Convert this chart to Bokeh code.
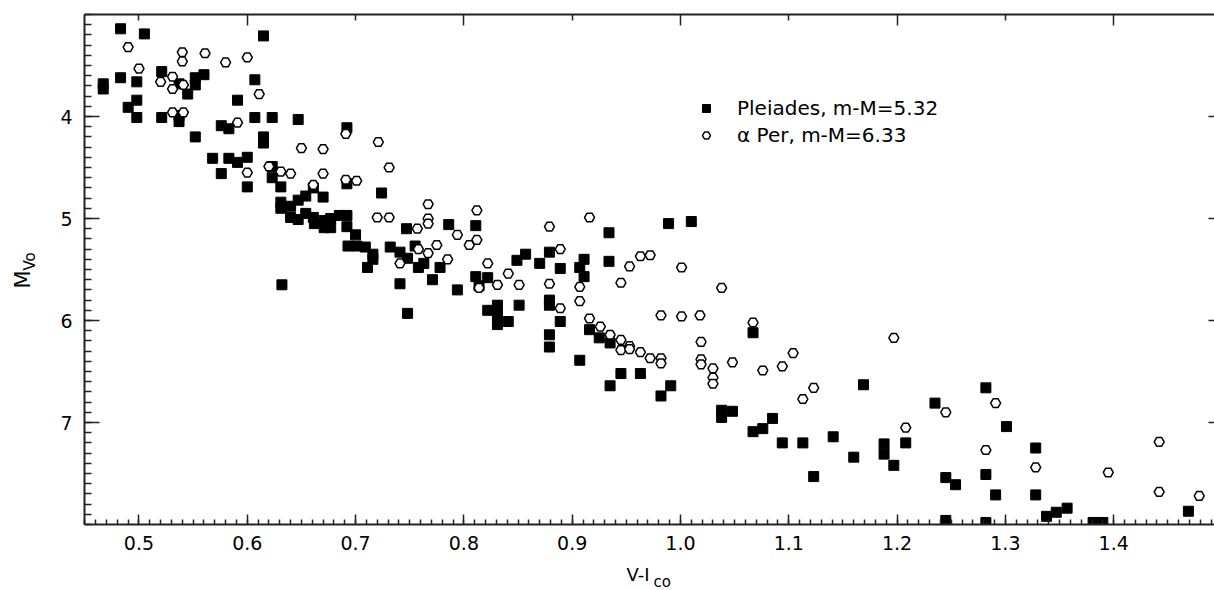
from bokeh.plotting import figure
from bokeh.models import (Range1d, FixedTicker, LinearAxis, PrintfTickFormatter,
                          Legend, LegendItem, Title)
from bokeh.embed import file_html
from bokeh.resources import INLINE

# ---------------- data ----------------
pleiades_vi = [
    0.483, 0.505, 0.615, 0.467, 0.467, 0.483, 0.498, 0.521, 0.498, 0.490,
    0.498, 0.521, 0.537, 0.537, 0.537, 0.545, 0.552, 0.552, 0.560, 0.552,
    0.576, 0.583, 0.591, 0.607, 0.607, 0.615, 0.615, 0.623, 0.647, 0.568,
    0.583, 0.591, 0.600, 0.576, 0.600, 0.623, 0.623, 0.631, 0.692, 0.724,
    0.692, 0.670, 0.747, 0.741, 0.632, 0.631, 0.631, 0.640, 0.647, 0.654,
    0.661, 0.640, 0.647, 0.654, 0.661, 0.662, 0.671, 0.671, 0.677, 0.677,
    0.685, 0.692, 0.692, 0.700, 0.693, 0.701, 0.709, 0.716, 0.716, 0.711,
    0.732, 0.741, 0.748, 0.755, 0.758, 0.763, 0.778, 0.771, 0.786, 0.794,
    0.811, 0.811, 0.748, 0.814, 0.822, 0.822, 0.831, 0.831, 0.831, 0.841,
    0.851, 0.849, 0.857, 0.870, 0.879, 0.889, 0.879, 0.879, 0.889, 0.879,
    0.879, 0.911, 0.907, 0.911, 0.934, 0.934, 0.989, 1.010, 0.916, 0.925,
    0.935, 0.907, 0.945, 0.963, 0.935, 0.991, 0.982, 1.067, 1.038, 1.038,
    1.048, 1.085, 1.076, 1.067, 1.094, 1.113, 1.141, 1.160, 1.123, 1.169,
    1.188, 1.188, 1.197, 1.208, 1.235, 1.282, 1.245, 1.282, 1.301, 1.254,
    1.245, 1.291, 1.282, 1.328, 1.328, 1.338, 1.347, 1.357, 1.381, 1.390,
    1.469,
]
pleiades_mv = [
    3.14, 3.19, 3.21, 3.68, 3.73, 3.62, 3.66, 3.56, 3.84, 3.91,
    4.01, 4.01, 3.68, 3.99, 4.05, 3.78, 3.62, 3.69, 3.59, 4.20,
    4.09, 4.12, 3.84, 3.64, 4.01, 4.20, 4.26, 4.01, 4.03, 4.41,
    4.41, 4.45, 4.40, 4.56, 4.69, 4.49, 4.60, 4.69, 4.11, 4.75,
    4.66, 4.79, 5.10, 5.64, 5.65, 4.84, 4.90, 4.88, 4.82, 4.78,
    4.70, 4.99, 5.01, 4.95, 4.99, 5.05, 5.09, 5.02, 5.00, 5.09,
    4.97, 4.97, 5.08, 5.16, 5.27, 5.27, 5.28, 5.35, 5.40, 5.48,
    5.28, 5.33, 5.39, 5.27, 5.48, 5.44, 5.48, 5.60, 5.06, 5.70,
    5.07, 5.57, 5.93, 5.66, 5.58, 5.90, 5.85, 5.95, 6.04, 6.01,
    5.85, 5.41, 5.35, 5.44, 5.33, 5.49, 5.80, 5.85, 6.01, 6.14,
    6.26, 5.40, 5.48, 5.57, 5.14, 5.42, 5.05, 5.03, 6.09, 6.17,
    6.22, 6.39, 6.52, 6.52, 6.64, 6.64, 6.74, 6.12, 6.88, 6.95,
    6.89, 6.96, 7.06, 7.09, 7.20, 7.20, 7.14, 7.34, 7.53, 6.63,
    7.21, 7.31, 7.42, 7.20, 6.81, 6.66, 7.54, 7.51, 7.04, 7.61,
    7.96, 7.71, 7.98, 7.25, 7.71, 7.92, 7.88, 7.84, 7.98, 7.98,
    7.87,
]

aper_vi = [
    0.490, 0.540, 0.540, 0.561, 0.580, 0.600, 0.500, 0.531, 0.520, 0.531,
    0.541, 0.531, 0.541, 0.611, 0.591, 0.650, 0.600, 0.620, 0.631, 0.640,
    0.691, 0.721, 0.731, 0.670, 0.691, 0.701, 0.720, 0.731, 0.757, 0.670,
    0.741, 0.661, 0.767, 0.767, 0.767, 0.812, 0.812, 0.794, 0.805, 0.775,
    0.758, 0.767, 0.785, 0.916, 0.879, 0.822, 0.841, 0.831, 0.851, 0.814,
    0.879, 0.889, 0.907, 0.907, 0.889, 0.953, 0.945, 0.963, 0.972, 1.001,
    0.916, 0.926, 0.935, 0.945, 0.945, 0.953, 0.953, 0.963, 0.972, 0.982,
    0.982, 0.982, 1.001, 1.018, 1.038, 1.019, 1.019, 1.019, 1.030, 1.030,
    1.030, 1.048, 1.067, 1.076, 1.094, 1.104, 1.123, 1.113, 1.197, 1.245,
    1.208, 1.291, 1.282, 1.328, 1.395, 1.442, 1.442, 1.479,
]
aper_mv = [
    3.32, 3.37, 3.46, 3.38, 3.47, 3.42, 3.53, 3.61, 3.66, 3.73,
    3.69, 3.96, 3.96, 3.78, 4.06, 4.31, 4.55, 4.49, 4.54, 4.56,
    4.17, 4.25, 4.50, 4.32, 4.62, 4.63, 4.99, 4.99, 5.10, 4.56,
    5.44, 4.67, 4.86, 5.00, 5.05, 4.92, 5.21, 5.16, 5.26, 5.26,
    5.30, 5.34, 5.40, 4.99, 5.08, 5.44, 5.54, 5.65, 5.65, 5.68,
    5.64, 5.30, 5.67, 5.81, 5.88, 5.47, 5.63, 5.37, 5.36, 5.48,
    5.98, 6.06, 6.14, 6.19, 6.29, 6.25, 6.28, 6.31, 6.37, 6.37,
    6.42, 5.95, 5.96, 5.95, 5.68, 6.21, 6.38, 6.43, 6.47, 6.56,
    6.62, 6.41, 6.02, 6.49, 6.45, 6.32, 6.66, 6.77, 6.17, 6.90,
    7.05, 6.81, 7.27, 7.44, 7.49, 7.19, 7.68, 7.72,
]

x_ticks = [0.5, 0.6, 0.7, 0.8, 0.9, 1.0, 1.1, 1.2, 1.3, 1.4]
y_ticks = [4, 5, 6, 7]
series_labels = ["Pleiades, m-M=5.32", "\u03b1 Per, m-M=6.33"]

# ---------------- layout ----------------
X_START, X_END = 0.4497, 1.4931
Y_BOTTOM, Y_TOP = 8.0, 3.0
FRAME_L, FRAME_T, FRAME_W, FRAME_H = 84, 14, 1130, 510
FRAME_B = FRAME_T + FRAME_H
FONT = "DejaVu Sans"
TICK_FS = 19
AXIS_COLOR = "#222222"

p = figure(frame_width=FRAME_W, frame_height=FRAME_H,
           output_backend="svg", toolbar_location=None,
           x_range=Range1d(X_START, X_END), y_range=Range1d(Y_BOTTOM, Y_TOP),
           x_axis_type=None, y_axis_type=None,
           min_border_left=FRAME_L, min_border_right=0, min_border_top=FRAME_T,
           min_border_bottom=66)
p.xgrid.visible = False
p.ygrid.visible = False
p.outline_line_color = None
p.background_fill_color = "white"
p.border_fill_color = "white"

minor_x = [round(0.45 + 0.01 * i, 2) for i in range(0, 105)]
minor_y = [round(3.0 + 0.1 * i, 1) for i in range(0, 51)]


def style_axis(ax):
    ax.axis_line_color = AXIS_COLOR
    ax.axis_line_width = 2
    ax.major_tick_line_color = AXIS_COLOR
    ax.minor_tick_line_color = AXIS_COLOR
    ax.major_tick_line_width = 1.5
    ax.minor_tick_line_width = 1.5
    ax.major_tick_out = 0
    ax.minor_tick_out = 0
    ax.major_label_text_font = FONT
    ax.major_label_text_color = "black"
    ax.major_label_text_font_size = f"{TICK_FS}px"


def style_title(ax, size):
    ax.axis_label_text_font = FONT
    ax.axis_label_text_font_size = f"{size}px"
    ax.axis_label_text_font_style = "normal"
    ax.axis_label_text_color = "black"


# bottom axis, carrying the main part of the x title "V-I"
VI_FS = 18
xb = LinearAxis(ticker=FixedTicker(ticks=x_ticks, minor_ticks=minor_x),
                formatter=PrintfTickFormatter(format="%.1f"))
style_axis(xb)
xb.major_tick_in = 10
xb.minor_tick_in = 5
xb.major_label_standoff = 11
xb.axis_label = "V-I    "
style_title(xb, VI_FS)
xb.axis_label_standoff = 11
p.add_layout(xb, "below")

# left axis, carrying the main letter of the y title "M"
M_FS = 21
yl = LinearAxis(ticker=FixedTicker(ticks=y_ticks, minor_ticks=minor_y),
                formatter=PrintfTickFormatter(format="%.0f"))
style_axis(yl)
yl.major_tick_in = 15
yl.minor_tick_in = 7
yl.major_label_standoff = 12
yl.major_label_orientation = "horizontal"
yl.axis_label = "M   "
style_title(yl, M_FS)
yl.axis_label_standoff = 22
p.add_layout(yl, "left")

xt = LinearAxis(ticker=FixedTicker(ticks=[t for t in x_ticks if round(t * 10) % 2 == 0],
                                   minor_ticks=[t for t in x_ticks if round(t * 10) % 2 == 1]))
style_axis(xt)
xt.major_tick_in = 11
xt.minor_tick_in = 6
xt.major_label_standoff = 0
xt.major_label_overrides = {t: "" for t in x_ticks}
p.add_layout(xt, "above")

yr = LinearAxis(ticker=FixedTicker(ticks=y_ticks, minor_ticks=[]))
style_axis(yr)
yr.axis_line_color = None
yr.major_tick_in = 6
yr.major_label_standoff = 0
yr.major_label_overrides = {t: "" for t in y_ticks}
p.add_layout(yr, "right")

# ---------------- data glyphs ----------------
sq = p.scatter(pleiades_vi, pleiades_mv, marker="square", size=10,
               fill_color="black", line_color="black", line_width=1)
hx = p.scatter(aper_vi, aper_mv, marker="hex", size=10,
               fill_color="white", line_color="black", line_width=1.5)

legend = Legend(items=[LegendItem(label=series_labels[0], renderers=[sq]),
                       LegendItem(label=series_labels[1], renderers=[hx])],
                location=(612, 377), orientation="vertical",
                padding=0, margin=0, spacing=3,
                glyph_width=20, glyph_height=20, label_height=20,
                label_standoff=21,
                label_text_font=FONT, label_text_font_size="20px",
                label_text_color="black",
                border_line_alpha=0, background_fill_alpha=0)
p.add_layout(legend)

# ---------------- subscripts of the axis titles ----------------
# x: "co" (panel after the bottom axis; placed from that panel's inner edge)
CO_FS = 15
xb_outer = 553 + xb.axis_label_standoff + 1.164 * VI_FS
co_top = 584 - 0.928 * CO_FS
p.add_layout(Title(text="co", align="left", offset=653 - FRAME_L,
                   vertical_align="top", standoff=2 * (co_top - xb_outer),
                   text_font=FONT, text_font_size=f"{CO_FS}px",
                   text_font_style="normal", text_color="black"), "below")

# y: "Vo" (rotated, panel after the left axis)
VO_FS = 15
yl_outer = FRAME_L - (12 + 0.636 * TICK_FS) - yl.axis_label_standoff - 1.164 * M_FS
vo_right = 40 + 0.236 * VO_FS
p.add_layout(Title(text="Vo", align="left", offset=FRAME_B - 270,
                   vertical_align="bottom", standoff=2 * (yl_outer - vo_right),
                   text_font=FONT, text_font_size=f"{VO_FS}px",
                   text_font_style="normal", text_color="black"), "left")

open("out.html", "w").write(file_html(p, INLINE))
